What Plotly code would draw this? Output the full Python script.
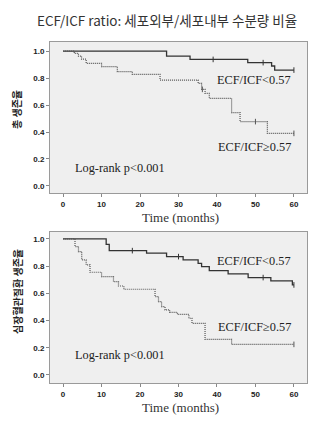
import plotly.graph_objects as go

# Top panel: overall survival
top_low_t = [0, 26.9, 33, 48, 54.2, 55, 60]
top_low_s = [1.0, 0.963, 0.938, 0.914, 0.889, 0.859, 0.859]
top_high_t = [0, 2.9, 4, 4.8, 6, 10, 14.1, 18, 25.2, 35.1, 36, 36.9, 38, 43.8, 46, 53.1, 60]
top_high_s = [1.0, 0.983, 0.963, 0.94, 0.909, 0.884, 0.847, 0.827, 0.785, 0.76, 0.716, 0.686, 0.649, 0.543, 0.477, 0.39, 0.39]
top_low_cens_t = [39, 52, 60]
top_low_cens_s = [0.938, 0.914, 0.859]
top_high_cens_t = [36.2, 50, 60]
top_high_cens_s = [0.716, 0.477, 0.39]

# Bottom panel: cardiovascular survival
bot_low_t = [0, 11.2, 12, 21.7, 26.9, 31.2, 35.1, 36, 38, 42.9, 48.1, 54, 59.6, 60]
bot_low_s = [1.0, 0.96, 0.914, 0.895, 0.87, 0.846, 0.82, 0.797, 0.767, 0.743, 0.716, 0.691, 0.662, 0.662]
bot_high_t = [0, 3.1, 4, 4.85, 6, 7, 10, 13.1, 14.4, 15.8, 23.9, 24.8, 25.6, 26.5, 27.7, 29.7, 32.7, 33.5, 36.9, 43.8, 60]
bot_high_s = [1.0, 0.944, 0.907, 0.846, 0.809, 0.755, 0.723, 0.686, 0.654, 0.63, 0.576, 0.539, 0.502, 0.478, 0.46, 0.446, 0.417, 0.38, 0.262, 0.225, 0.225]
bot_low_cens_t = [18, 30, 52, 60]
bot_low_cens_s = [0.914, 0.87, 0.716, 0.662]
bot_high_cens_t = [60]
bot_high_cens_s = [0.225]

x_ticks = [0, 10, 20, 30, 40, 50, 60]
y_ticks = [0.0, 0.2, 0.4, 0.6, 0.8, 1.0]

title_text = "ECF/ICF ratio: 세포외부/세포내부 수분량 비율"
ytitle_top = "총 생존율"
ytitle_bot = "심장혈관질환 생존율"
label_low = "ECF/ICF<0.57"
label_high = "ECF/ICF≥0.57"
logrank = "Log-rank p<0.001"
xtitle = "Time (months)"

fig = go.Figure()

def add_panel(xa, ya, lt, ls, ht, hs, lct, lcs, hct, hcs):
    fig.add_trace(go.Scatter(x=lt, y=ls, mode="lines", line=dict(shape="hv", color="#333333", width=1.3),
                             xaxis=xa, yaxis=ya, showlegend=False, hoverinfo="skip"))
    fig.add_trace(go.Scatter(x=ht, y=hs, mode="lines", line=dict(shape="hv", color="#555555", width=1.2, dash="1px,1px"),
                             xaxis=xa, yaxis=ya, showlegend=False, hoverinfo="skip"))
    fig.add_trace(go.Scatter(x=lct, y=lcs, mode="markers", marker=dict(symbol="line-ns", size=4, line=dict(color="#333333", width=1)),
                             xaxis=xa, yaxis=ya, showlegend=False, hoverinfo="skip"))
    fig.add_trace(go.Scatter(x=hct, y=hcs, mode="markers", marker=dict(symbol="line-ns", size=4, line=dict(color="#555555", width=1)),
                             xaxis=xa, yaxis=ya, showlegend=False, hoverinfo="skip"))

add_panel("x", "y", top_low_t, top_low_s, top_high_t, top_high_s, top_low_cens_t, top_low_cens_s, top_high_cens_t, top_high_cens_s)
add_panel("x2", "y2", bot_low_t, bot_low_s, bot_high_t, bot_high_s, bot_low_cens_t, bot_low_cens_s, bot_high_cens_t, bot_high_cens_s)

W, H = 323, 425
xdom = [50 / W, 307 / W]
tick_font = dict(family="Liberation Sans", size=8, color="#222222")
axis_common = dict(showgrid=False, zeroline=False, showline=True, linecolor="#9a9a9a", linewidth=1, mirror=True,
                   ticks="outside", ticklen=3, tickcolor="#888888", tickfont=tick_font)

fig.update_layout(
    width=W, height=H, margin=dict(l=0, r=0, t=0, b=0),
    paper_bgcolor="white", plot_bgcolor="#efefef",
    xaxis=dict(domain=xdom, anchor="y", range=[-3.4, 63.4], tickvals=x_ticks, ticktext=[f"<b>{v}</b>" for v in x_ticks], **axis_common),
    yaxis=dict(domain=[1 - 193 / H, 1 - 42 / H], anchor="x", range=[-0.052, 1.067], tickvals=y_ticks,
               ticktext=[f"<b>{v:.1f}</b>" for v in y_ticks], **axis_common),
    xaxis2=dict(domain=xdom, anchor="y2", range=[-3.4, 63.4], tickvals=x_ticks, ticktext=[f"<b>{v}</b>" for v in x_ticks], **axis_common),
    yaxis2=dict(domain=[1 - 383 / H, 1 - 232 / H], anchor="x2", range=[-0.059, 1.051], tickvals=y_ticks,
                ticktext=[f"<b>{v:.1f}</b>" for v in y_ticks], **axis_common),
)

serif = dict(family="Liberation Serif", size=12.3, color="#222222")
ann = []
# title
ann.append(dict(text=title_text, x=167 / W, y=1 - 20 / H, xref="paper", yref="paper", showarrow=False,
                font=dict(family="Noto Sans CJK KR", size=13.5, color="#333333"), xanchor="center", yanchor="middle"))
# y titles
ann.append(dict(text=f"<b>{ytitle_top}</b>", x=17 / W, y=1 - 110 / H, xref="paper", yref="paper", showarrow=False, textangle=-90,
                font=dict(family="Noto Sans CJK KR", size=10, color="#222222"), xanchor="center", yanchor="middle"))
ann.append(dict(text=f"<b>{ytitle_bot}</b>", x=17 / W, y=1 - 292 / H, xref="paper", yref="paper", showarrow=False, textangle=-90,
                font=dict(family="Noto Sans CJK KR", size=10, color="#222222"), xanchor="center", yanchor="middle"))
# x titles
for yp in (208, 398):
    ann.append(dict(text=xtitle, x=180 / W, y=1 - yp / H, xref="paper", yref="paper", showarrow=False,
                    font=dict(family="Liberation Serif", size=13, color="#333333"), xanchor="center", yanchor="top"))
# in-plot labels
ann += [
    dict(text=label_low, x=59.7, y=0.785, xref="x", yref="y", xanchor="right", yanchor="middle", showarrow=False, font=serif),
    dict(text=label_high, x=59.7, y=0.289, xref="x", yref="y", xanchor="right", yanchor="middle", showarrow=False, font=serif),
    dict(text=logrank, x=2.5, y=0.136, xref="x", yref="y", xanchor="left", yanchor="middle", showarrow=False, font=serif),
    dict(text=label_low, x=59.7, y=0.84, xref="x2", yref="y2", xanchor="right", yanchor="middle", showarrow=False, font=serif),
    dict(text=label_high, x=59.7, y=0.355, xref="x2", yref="y2", xanchor="right", yanchor="middle", showarrow=False, font=serif),
    dict(text=logrank, x=2.5, y=0.147, xref="x2", yref="y2", xanchor="left", yanchor="middle", showarrow=False, font=serif),
]
fig.update_layout(annotations=ann)

fig.write_html("out.html")
